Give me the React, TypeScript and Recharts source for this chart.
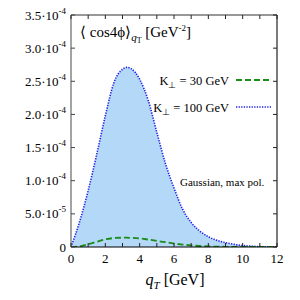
import React from 'react';
import { ComposedChart, Area, Line, XAxis, YAxis, Customized } from 'recharts';

const qT = [0, 0.5, 1, 1.5, 2, 2.5, 3, 3.25, 3.5, 4, 4.5, 5, 5.5, 6, 6.5, 7, 7.5, 8, 8.5, 9, 9.5, 10, 10.5, 11, 11.5, 12];
// values in units of 1e-4
const k100 = [0, 0.38, 0.85, 1.4, 1.98, 2.48, 2.68, 2.71, 2.69, 2.53, 2.21, 1.73, 1.26, 0.89, 0.57, 0.37, 0.24, 0.155, 0.1, 0.065, 0.04, 0.022, 0.012, 0.006, 0.003, 0.001];
const k30 = [0, 0.01, 0.04, 0.08, 0.115, 0.135, 0.14, 0.14, 0.138, 0.13, 0.112, 0.092, 0.072, 0.052, 0.036, 0.024, 0.015, 0.009, 0.005, 0.003, 0.002, 0.001, 0, 0, 0, 0];

const xTicks = [0, 1, 2, 3, 4, 5, 6, 7, 8, 9, 10, 11, 12];
const xTickLabels = ['0', '', '2', '', '4', '', '6', '', '8', '', '10', '', '12'];
const yTicks = [0, 0.5e-4, 1.0e-4, 1.5e-4, 2.0e-4, 2.5e-4, 3.0e-4, 3.5e-4];
const yTickMantissa = ['0', '5.0·10', '1.0·10', '1.5·10', '2.0·10', '2.5·10', '3.0·10', '3.5·10'];
const yTickExponent = ['', '-5', '-4', '-4', '-4', '-4', '-4', '-4'];

const legendLabels = ['30', '100'];

const SCALE = 1e-4;
const data = qT.map((q, i) => ({ q, k30: k30[i] * SCALE, k100: k100[i] * SCALE }));

const FONT = 'Liberation Serif, Times New Roman, serif';

const BottomTick = (props: any) => {
  const { x, y, payload } = props;
  const idx = xTicks.indexOf(payload.value);
  const label = idx >= 0 ? xTickLabels[idx] : '';
  return (
    <g>
      <line x1={x} y1={y} x2={x} y2={y - 4} stroke="#222" strokeWidth={1} />
      {label !== '' && (
        <text x={x} y={y + 16} textAnchor="middle" fontFamily={FONT} fontSize={13} fill="#000">{label}</text>
      )}
    </g>
  );
};

const TopTick = (props: any) => {
  const { x, y } = props;
  return <line x1={x} y1={y} x2={x} y2={y + 4} stroke="#222" strokeWidth={1} />;
};

const LeftTick = (props: any) => {
  const { x, y, payload } = props;
  const idx = yTicks.findIndex((t) => Math.abs(t - payload.value) < 1e-9);
  const m = idx >= 0 ? yTickMantissa[idx] : '';
  const e = idx >= 0 ? yTickExponent[idx] : '';
  return (
    <g>
      <line x1={x} y1={y} x2={x + 4} y2={y} stroke="#444" strokeWidth={1} />
      <text x={x - 5} y={y + 4.5} textAnchor="end" fontFamily={FONT} fontSize={13} fill="#000">
        {m}
        {e !== '' && (
          <tspan dy={-6} fontSize={9}>{e}</tspan>
        )}
      </text>
    </g>
  );
};

const RightTick = (props: any) => {
  const { x, y } = props;
  return <line x1={x} y1={y} x2={x - 4} y2={y} stroke="#222" strokeWidth={1} />;
};

const Overlay = () => (
  <g fontFamily={FONT} fill="#000">
    <text x={80} y={37} fontSize={15}>
      ⟨ cos4ϕ⟩
      <tspan dy={4} fontSize={11} fontStyle="italic">q</tspan>
      <tspan dy={2} fontSize={8}>T</tspan>
      <tspan dy={-6} fontSize={15}> [GeV</tspan>
      <tspan dy={-6} fontSize={9}>-2</tspan>
      <tspan dy={6} fontSize={15}>]</tspan>
    </text>
    <text x={229} y={84.5} fontSize={12.5} textAnchor="end">
      K<tspan dy={3} fontSize={9}>⊥</tspan><tspan dy={-3}> = {legendLabels[0]} GeV</tspan>
    </text>
    <line x1={236} y1={80} x2={271} y2={80} stroke="#1a8c1a" strokeWidth={1.8} strokeDasharray="6 3" />
    <text x={229} y={111.5} fontSize={12.5} textAnchor="end">
      K<tspan dy={3} fontSize={9}>⊥</tspan><tspan dy={-3}> = {legendLabels[1]} GeV</tspan>
    </text>
    <line x1={236} y1={107} x2={271} y2={107} stroke="#2020e6" strokeWidth={1.6} strokeDasharray="1.3 1.3" />
    <text x={180} y={185.5} fontSize={11}>Gaussian, max pol.</text>
    <text x={175} y={285} fontSize={16} textAnchor="middle">
      <tspan fontStyle="italic">q</tspan>
      <tspan dy={4} fontSize={11} fontStyle="italic">T</tspan>
      <tspan dy={-4}> [GeV]</tspan>
    </text>
  </g>
);

export default function App() {
  return (
    <div style={{ position: 'absolute', left: 0, top: 0, width: 300, height: 300, background: '#fff' }}>
      <ComposedChart width={300} height={300} data={data} margin={{ top: 14, right: 22, bottom: 52, left: 70 }}>
        <XAxis
          xAxisId="b"
          dataKey="q"
          type="number"
          domain={[0, 12]}
          ticks={xTicks}
          interval={0}
          height={1}
          tickSize={0}
          tickMargin={0}
          tick={<BottomTick />}
          tickLine={false}
          axisLine={{ stroke: '#000', strokeWidth: 1.2 }}
          allowDataOverflow
        />
        <XAxis
          xAxisId="t"
          orientation="top"
          dataKey="q"
          type="number"
          domain={[0, 12]}
          ticks={xTicks}
          interval={0}
          height={1}
          tickSize={0}
          tickMargin={0}
          tick={<TopTick />}
          tickLine={false}
          axisLine={{ stroke: '#333', strokeWidth: 1.2 }}
          allowDataOverflow
        />
        <YAxis
          yAxisId="l"
          type="number"
          domain={[0, 3.5e-4]}
          ticks={yTicks}
          interval={0}
          width={1}
          tickSize={0}
          tickMargin={0}
          tick={<LeftTick />}
          tickLine={false}
          axisLine={{ stroke: '#666', strokeWidth: 1.2 }}
          allowDataOverflow
        />
        <YAxis
          yAxisId="r"
          orientation="right"
          type="number"
          domain={[0, 3.5e-4]}
          ticks={yTicks}
          interval={0}
          width={1}
          tickSize={0}
          tickMargin={0}
          tick={<RightTick />}
          tickLine={false}
          axisLine={{ stroke: '#222', strokeWidth: 1.2 }}
          allowDataOverflow
        />
        <Area
          xAxisId="b"
          yAxisId="l"
          type="monotone"
          dataKey="k100"
          fill="#b4d8f8"
          fillOpacity={1}
          stroke="#2020e6"
          strokeWidth={1.6}
          strokeDasharray="1.3 1.3"
          dot={false}
          isAnimationActive={false}
        />
        <Line
          xAxisId="b"
          yAxisId="l"
          type="monotone"
          dataKey="k30"
          stroke="#1a8c1a"
          strokeWidth={1.8}
          strokeDasharray="6 3"
          dot={false}
          isAnimationActive={false}
        />
        <Customized component={Overlay} />
      </ComposedChart>
    </div>
  );
}
